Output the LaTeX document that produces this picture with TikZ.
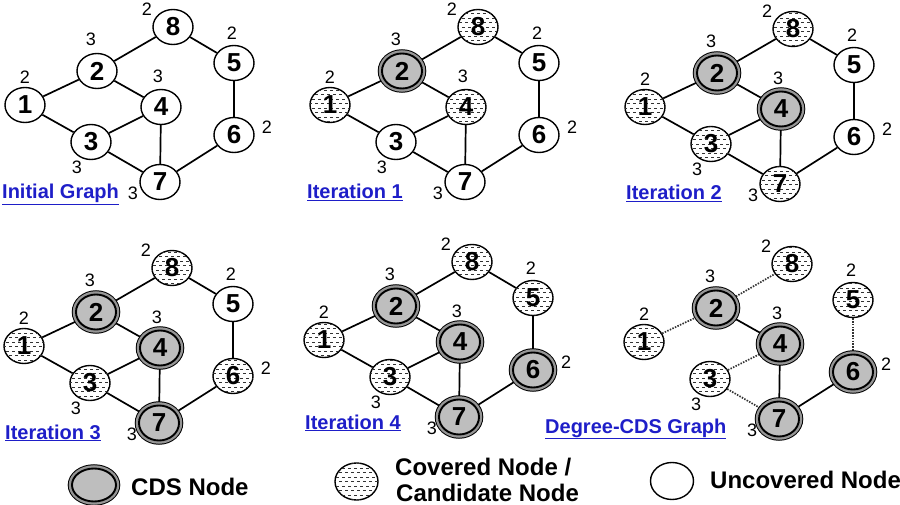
\documentclass[tikz,border=0pt]{standalone}
\usepackage{fontspec}
\setmainfont{Liberation Sans}
\usetikzlibrary{shapes.geometric,patterns,backgrounds}
\definecolor{cdsfill}{RGB}{190,190,190}
\definecolor{cdsring}{RGB}{150,150,150}
\definecolor{titleblue}{RGB}{30,30,200}
\pgfdeclarepatternformonly{dashrows}{\pgfqpoint{-1pt}{-1pt}}{\pgfqpoint{7pt}{10pt}}{\pgfqpoint{6pt}{9pt}}{%
  \pgfsetlinewidth{0.8pt}%
  \pgfpathmoveto{\pgfqpoint{0.2pt}{1pt}}\pgfpathlineto{\pgfqpoint{3.4pt}{1pt}}%
  \pgfpathmoveto{\pgfqpoint{3.2pt}{5.5pt}}\pgfpathlineto{\pgfqpoint{6.4pt}{5.5pt}}%
  \pgfusepath{stroke}}
\tikzset{
  gnode/.style={ellipse, minimum width=40pt, minimum height=35pt, inner sep=0pt,
    font=\fontsize{26}{26}\selectfont\bfseries, line width=1.4pt, draw=black},
  unc/.style={gnode, fill=white},
  cov/.style={gnode, fill=white, postaction={pattern=dashrows, pattern color=black!80}},
  cds/.style={gnode, fill=cdsfill, line width=1.9pt,
    preaction={draw=black, line width=8.5pt},
    preaction={draw=cdsring, line width=6.5pt}},
  deg/.style={font=\fontsize{18}{18}\selectfont, inner sep=0pt},
  title/.style={anchor=base west, inner sep=0pt, text=titleblue,
    font=\fontsize{20}{20}\selectfont\bfseries},
  edge/.style={line width=1.7pt, draw=black},
  dotedge/.style={line width=1.7pt, draw=black!80, dash pattern=on 1.5pt off 1.3pt},
  legtext/.style={anchor=base west, inner sep=0pt, font=\fontsize{24}{24}\selectfont\bfseries}
}
% nodes of one panel: #1 prefix, #2..#9 styles of nodes 1..8
\newcommand\cdsnodes[9]{%
  \node[#2] (#1-1) at (25,105) {1};
  \node[#3] (#1-2) at (97,71) {2};
  \node[#4] (#1-3) at (91,142) {3};
  \node[#5] (#1-4) at (161,107) {4};
  \node[#6] (#1-5) at (234,63) {5};
  \node[#7] (#1-6) at (234,135) {6};
  \node[#8] (#1-7) at (160,182) {7};
  \node[#9] (#1-8) at (173,27) {8};
  \node[deg] (#1-d1) at (25,77) {2};
  \node[deg] (#1-d2) at (91,39) {3};
  \node[deg] (#1-d3) at (77,167) {3};
  \node[deg] (#1-d4) at (158,76) {3};
  \node[deg] (#1-d5) at (232,33) {2};
  \node[deg] (#1-d6) at (267,127) {2};
  \node[deg] (#1-d7) at (133,193) {3};
  \node[deg] (#1-d8) at (147,9) {2};
}
\newcommand\cdsedges[1]{%
  \begin{pgfonlayer}{background}
  \draw[edge] (#1-1) -- (#1-2);
  \draw[edge] (#1-1) -- (#1-3);
  \draw[edge] (#1-2) -- (#1-8);
  \draw[edge] (#1-2) -- (#1-4);
  \draw[edge] (#1-3) -- (#1-4);
  \draw[edge] (#1-3) -- (#1-7);
  \draw[edge] (#1-4) -- (#1-7);
  \draw[edge] (#1-8) -- (#1-5);
  \draw[edge] (#1-5) -- (#1-6);
  \draw[edge] (#1-6) -- (#1-7);
  \end{pgfonlayer}
}
\begin{document}
\begin{tikzpicture}[x=1pt,y=-1pt]
\useasboundingbox (0,0) rectangle (900,505);

% Panel 1: Initial Graph
\begin{scope}
  \cdsnodes{a}{unc}{unc}{unc}{unc}{unc}{unc}{unc}{unc}
  \cdsedges{a}
\end{scope}
\node[title] (ta) at (2,199) {\underline{Initial Graph}};

% Panel 2: Iteration 1
\begin{scope}[shift={(305,0)}]
  \cdsnodes{b}{cov}{cds}{unc}{cov}{unc}{unc}{unc}{cov}
  \cdsedges{b}
\end{scope}
\node[title] (tb) at (307,199) {\underline{Iteration 1}};

% Panel 3: Iteration 2
\begin{scope}[shift={(620,2)}]
  \cdsnodes{c}{cov}{cds}{cov}{cds}{unc}{unc}{cov}{cov}
  \cdsedges{c}
\end{scope}
\node[title] (tc) at (626,200) {\underline{Iteration 2}};

% Panel 4: Iteration 3
\begin{scope}[shift={(-1,241)}]
  \cdsnodes{d}{cov}{cds}{cov}{cds}{unc}{cov}{cds}{cov}
  \cdsedges{d}
\end{scope}
\node[title] (td) at (5,439) {\underline{Iteration 3}};

% Panel 5: Iteration 4
\begin{scope}[shift={(299,235)}]
  \cdsnodes{e}{cov}{cds}{cov}{cds}{cov}{cds}{cds}{cov}
  \cdsedges{e}
\end{scope}
\node[title] (te) at (305,429) {\underline{Iteration 4}};

% Panel 6: Degree-CDS Graph
\begin{scope}[shift={(619,237)}]
  \cdsnodes{f}{cov}{cds}{cov}{cds}{cov}{cds}{cds}{cov}
  \begin{pgfonlayer}{background}
  \draw[dotedge] (f-1) -- (f-2);
  \draw[dotedge] (f-2) -- (f-8);
  \draw[edge] (f-2) -- (f-4);
  \draw[dotedge] (f-3) -- (f-4);
  \draw[dotedge] (f-3) -- (f-7);
  \draw[edge] (f-4) -- (f-7);
  \draw[dotedge] (f-5) -- (f-6);
  \draw[edge] (f-6) -- (f-7);
  \end{pgfonlayer}
\end{scope}
\node[title] (tf) at (545,433) {\underline{Degree-CDS Graph}};

% Legend
\node[cds, minimum width=44pt, minimum height=33pt] (lcds) at (94,485) {};
\node[legtext] (lcdst) at (131,495) {CDS Node};
\node[cov, minimum width=43pt, minimum height=37pt] (lcov) at (356.5,481.5) {};
\node[legtext] (lcovt1) at (395,475) {Covered Node /};
\node[legtext] (lcovt2) at (396,501) {Candidate Node};
\node[unc, minimum width=43pt, minimum height=37pt] (lunc) at (672,481) {};
\node[legtext] (lunct) at (710,488) {Uncovered Node};
\end{tikzpicture}
\end{document}
